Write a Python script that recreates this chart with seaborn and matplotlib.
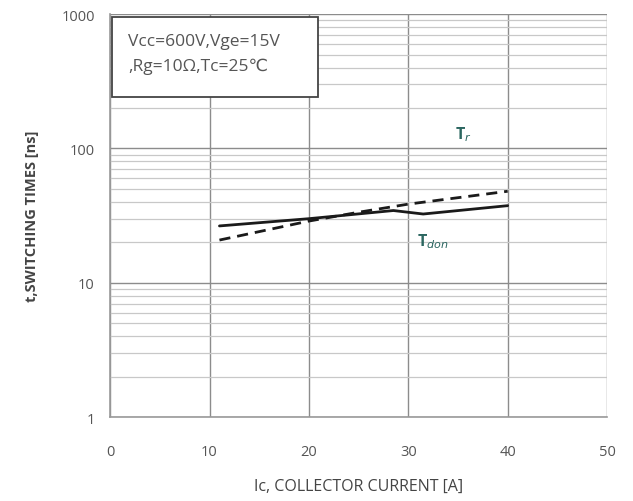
import matplotlib
matplotlib.use("Agg")
import matplotlib.pyplot as plt
import seaborn as sns
import pandas as pd
import numpy as np
from matplotlib.ticker import FixedLocator, NullFormatter
from matplotlib.patches import Rectangle

sns.set_style("white")
plt.rcParams['font.family'] = ['Open Sans', 'DejaVu Sans']

# Data
tdon_ic = [11, 20, 28.5, 31.5, 40]
tdon_t = [26.5, 30.0, 34.5, 32.5, 37.5]
tr_ic = [11, 20, 25, 30, 40]
tr_t = [20.8, 28.8, 33.5, 38.5, 48.0]

x_ticks = [0, 10, 20, 30, 40, 50]
y_ticks = [1, 10, 100, 1000]
y_tick_labels = ["1", "10", "100", "1000"]

df_on = pd.DataFrame({"Ic": tdon_ic, "t": tdon_t})
df_r = pd.DataFrame({"Ic": tr_ic, "t": tr_t})

fig = plt.figure(figsize=(6.33, 5.02), dpi=100)
ax = fig.add_axes([0.174, 0.167, 0.785, 0.803])

sns.lineplot(data=df_on, x="Ic", y="t", ax=ax, color="#1a1a1a", linewidth=2.0, linestyle="-")
sns.lineplot(data=df_r, x="Ic", y="t", ax=ax, color="#1a1a1a", linewidth=2.0, linestyle=(0, (4, 2.5)))

ax.set_yscale("log")
ax.set_xlim(0, 50)
ax.set_ylim(1, 1000)
ax.set_xticks(x_ticks)
ax.set_xticklabels([str(v) for v in x_ticks])
ax.yaxis.set_major_locator(FixedLocator(y_ticks))
ax.set_yticklabels(y_tick_labels)
minor = [m * d for d in [1, 10, 100] for m in range(2, 10)]
ax.yaxis.set_minor_locator(FixedLocator(minor))
ax.yaxis.set_minor_formatter(NullFormatter())

ax.grid(True, which="major", axis="both", color="#8c8c8c", linewidth=1.0)
ax.grid(True, which="minor", axis="y", color="#c8c8c8", linewidth=0.9)

for s in ["top", "right"]:
    ax.spines[s].set_visible(False)
for s in ["left", "bottom"]:
    ax.spines[s].set_color("#9a9a9a")
    ax.spines[s].set_linewidth(1.2)

ax.tick_params(axis="both", which="major", direction="out", length=5, color="#9a9a9a",
               labelsize=10.5, labelcolor="#555555", pad=14)
ax.tick_params(axis="y", which="major", pad=6)
ax.tick_params(axis="y", which="minor", length=0)

ax.set_xlabel("Ic, COLLECTOR CURRENT [A]", fontsize=11.5, color="#444444", labelpad=14)
ax.set_ylabel("t,SWITCHING TIMES [ns]", fontsize=10.5, color="#444444", fontweight="bold", labelpad=16)

# condition box
ax.add_patch(Rectangle((0.004, 0.794), 0.4145, 0.1986, transform=ax.transAxes,
                       facecolor="white", edgecolor="#444444", linewidth=1.3, zorder=5))
ax.text(0.036, 0.934, "Vcc=600V,Vge=15V", transform=ax.transAxes, fontsize=12.5,
        color="#555555", va="center", ha="left", zorder=6)
ax.text(0.036, 0.872, ",Rg=10Ω,Tc=25℃", transform=ax.transAxes, fontsize=12.5,
        color="#555555", va="center", ha="left", zorder=6)

ax.text(35.5, 128, r"T$_r$", fontsize=11.5, color="#2b6660", ha="center", va="center", fontweight="bold")
ax.text(32.5, 20.5, r"T$_{don}$", fontsize=11.5, color="#2b6660", ha="center", va="center", fontweight="bold")

fig.savefig("out.png", dpi=100)
